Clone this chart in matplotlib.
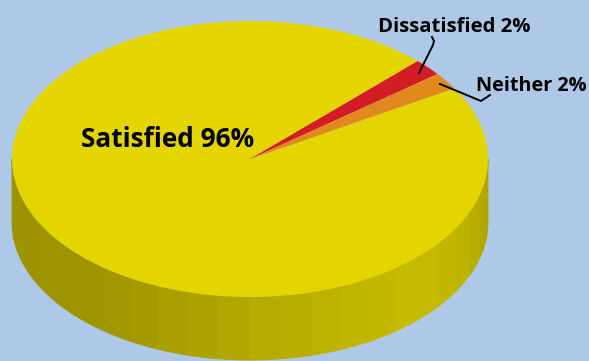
import numpy as np
import matplotlib
matplotlib.use("Agg")
import matplotlib.pyplot as plt

labels = ["Satisfied", "Dissatisfied", "Neither"]
shares = [96, 2, 2]
colors = ["#e4d400", "#d41c24", "#e08a1e"]

W, H = 589, 361
bg = "#aec8e8"

# pie geometry in pixels: centre, ellipse radii and thickness of the disc
cx, cy = 250, 159
rx, ry = 238, 138
depth = 63


def px(x, y):
    # pixel position -> pie units (radius 1, y up)
    return (x - cx) / rx, (cy - y) / ry


fig = plt.figure(figsize=(W / 100, H / 100), dpi=100)
fig.patch.set_facecolor(bg)
ax = fig.add_axes([0, 0, 1, 1])
ax.set_facecolor(bg)

# side wall: vertical strips around the front half, darker towards the left
d = depth / ry
edges = np.linspace(180, 360, 25)
for a0, a1 in zip(edges[:-1], edges[1:]):
    t = np.radians(np.linspace(a0, a1, 8))
    xs = np.concatenate([np.cos(t), np.cos(t[::-1])])
    ys = np.concatenate([np.sin(t), np.sin(t[::-1]) - d])
    xm = cx + rx * np.cos(np.radians((a0 + a1) / 2))
    r = np.interp(xm, [10, 100, 250, 420, 465, 488], [156, 158, 180, 200, 190, 176])
    c = (r / 255, r * 0.94 / 255, 0)
    ax.fill(xs, ys, color=c, lw=0.6, ec=c)

# top face
ax.pie(shares, colors=colors, startangle=30.8, counterclock=False,
       radius=1, center=(0, 0), wedgeprops=dict(linewidth=0))
ax.set_aspect("auto")
x0, y0 = px(0, H)
x1, y1 = px(W, 0)
ax.set_xlim(x0, x1)
ax.set_ylim(y0, y1)
ax.axis("off")

font = dict(family=["Open Sans", "DejaVu Sans"], fontweight="bold", color="black")
ax.text(*px(81, 147), f"{labels[0]} {shares[0]}%", fontsize=18.9,
        ha="left", va="baseline", **font)
ax.text(*px(378, 32), f"{labels[1]} {shares[1]}%", fontsize=14.6,
        ha="left", va="baseline", **font)
ax.text(*px(476, 91), f"{labels[2]} {shares[2]}%", fontsize=14.3,
        ha="left", va="baseline", **font)

# leader lines
line1 = np.array([px(419, 73), px(433, 45), px(434, 41), px(432, 37)])
line2 = np.array([px(440, 84), px(481, 101), px(490, 95)])
ax.plot(line1[:, 0], line1[:, 1], color="black", lw=1.4)
ax.plot(line2[:, 0], line2[:, 1], color="black", lw=1.4)

fig.savefig("out.png", dpi=100, facecolor=bg)
